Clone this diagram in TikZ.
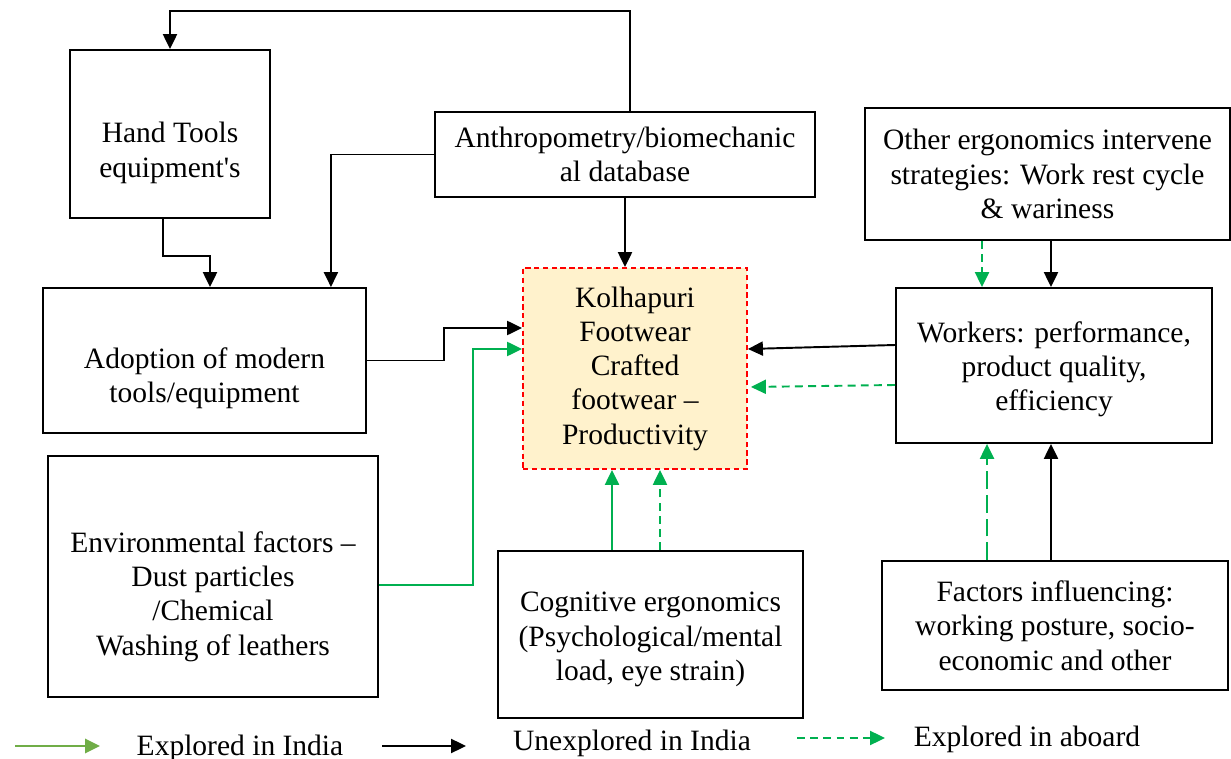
\documentclass[tikz,border=0pt]{standalone}
\usepackage{fontspec}
\setmainfont{Liberation Serif}
\usetikzlibrary{arrows.meta}
\definecolor{grn}{HTML}{00B050}
\definecolor{lgrn}{HTML}{70AD47}
\definecolor{core}{HTML}{FFF2CC}
\tikzset{
  box/.style={rectangle, draw, line width=1.1pt, align=center, inner sep=2pt,
    font=\fontsize{16.8}{19.5}\selectfont},
  txt/.style={align=center, inner sep=0pt, font=\fontsize{16.8}{19.5}\selectfont},
  tip/.style={-{Triangle[length=8.5pt,width=8pt]}},
  blk/.style={tip, line width=1.1pt, black},
  grnline/.style={tip, line width=1.1pt, grn},
  grndash/.style={tip, line width=1.1pt, grn, dash pattern=on 4.5pt off 3pt},
  lgd/.style={font=\fontsize{16.8}{19.5}\selectfont}
}
\begin{document}
\begin{tikzpicture}[x=0.02cm, y=-0.02cm]
    \useasboundingbox (0,0) rectangle (1231,759);
    \node (hand) at (170,134) [box, minimum width=4cm, minimum height=3.36cm] {};
    \node (hand-t) at ([yshift=-0.38cm]hand.center) [txt] {Hand Tools\\equipment\textquotesingle s};
    \node (anth) at (625,154.5) [box, minimum width=7.6cm, minimum height=1.7cm] {Anthropometry/biomechanic\\al database};
    \node (other) at (1047.5,174) [box, minimum width=7.3cm, minimum height=2.64cm] {Other ergonomics intervene\\strategies: Work rest cycle\\\& wariness};
    \node (adopt) at (204.5,360.5) [box, minimum width=6.46cm, minimum height=2.9cm] {};
    \node (adopt-t) at ([yshift=-0.35cm]adopt.center) [txt] {Adoption of modern\\tools/equipment};
    \node (core) at (635,368.5) [box, draw=red, fill=core, dash pattern=on 3pt off 2pt, minimum width=4.48cm, minimum height=4.02cm] {Kolhapuri\\Footwear\\Crafted\\footwear --\\Productivity};
    \node (work) at (1054,365.5) [box, minimum width=6.32cm, minimum height=3.1cm] {};
    \node (work-t) at ([yshift=-0.08cm]work.center) [txt] {Workers: performance,\\product quality,\\efficiency};
    \node (env) at (213,576.5) [box, minimum width=6.6cm, minimum height=4.82cm] {};
    \node (env-t) at ([yshift=-0.4cm]env.center) [txt] {Environmental factors --\\Dust particles\\/Chemical\\Washing of leathers};
    \node (cog) at (650.5,634.5) [box, minimum width=6.1cm, minimum height=3.34cm] {};
    \node (cog-t) at ([yshift=-0.1cm]cog.center) [txt] {Cognitive ergonomics\\(Psychological/mental\\load, eye strain)};
    \node (fact) at (1055,625.5) [box, minimum width=6.92cm, minimum height=2.58cm] {Factors influencing:\\working posture, socio-\\economic and other};

    % links into the core box
    \draw[blk] ([xshift=0.1cm]anth.north) -- ++(0,-100) -| (hand.north);
    \draw[blk] (anth.west) -| ([xshift=-0.72cm]adopt.north east);
    \draw[blk] ([xshift=-0.14cm]hand.south) -- ++(0,37) -| ([xshift=0.11cm]adopt.north);
    \draw[blk] (anth.south) to (anth.south |- core.north);
    \draw[blk] (adopt.east) -- ++(77,0) |- ([yshift=0.81cm]core.west);
    \draw[grnline] ([yshift=-0.17cm]env.east) -- ++(94,0) |- ([yshift=0.39cm]core.west);
    \coordinate (c1) at ([xshift=-0.77cm]cog.north);
    \coordinate (c2) at ([xshift=0.19cm]cog.north);
    \draw[grnline] (c1) to (c1 |- core.south);
    \draw[grndash] (c2) to (c2 |- core.south);
    \draw[blk] ([yshift=0.41cm]work.west) to ([yshift=0.39cm]core.east);
    \draw[grndash] ([yshift=-0.39cm]work.west) to ([yshift=-0.37cm,xshift=0.06cm]core.east);

    % links into the workers box
    \coordinate (c3) at ([xshift=-1.44cm]work.north);
    \coordinate (c4) at ([xshift=-0.06cm]work.north);
    \draw[grndash] (c3 |- other.south) to (c3);
    \draw[blk] (c4 |- other.south) to (c4);
    \coordinate (c5) at ([xshift=-1.34cm]work.south);
    \coordinate (c6) at ([xshift=-0.06cm]work.south);
    \draw[grndash, dash pattern=on 10pt off 3.5pt] (c5 |- fact.north) to (c5);
    \draw[blk] (c6 |- fact.north) to (c6);

    % legend
    \coordinate (l1a) at (15,746);
    \coordinate (l1b) at (100,746);
    \coordinate (l2a) at (382,746);
    \coordinate (l2b) at (466,746);
    \coordinate (l3a) at (797,738);
    \coordinate (l3b) at (885,738);
    \draw[tip, lgrn, line width=1.7pt] (l1a) to (l1b);
    \draw[blk] (l2a) to (l2b);
    \draw[grndash] (l3a) to (l3b);
    \node (t1) at (240,748) [lgd] {Explored in India};
    \node (t2) at (632,743) [lgd] {Unexplored in India};
    \node (t3) at (1027,739) [lgd] {Explored in aboard};
\end{tikzpicture}
\end{document}
